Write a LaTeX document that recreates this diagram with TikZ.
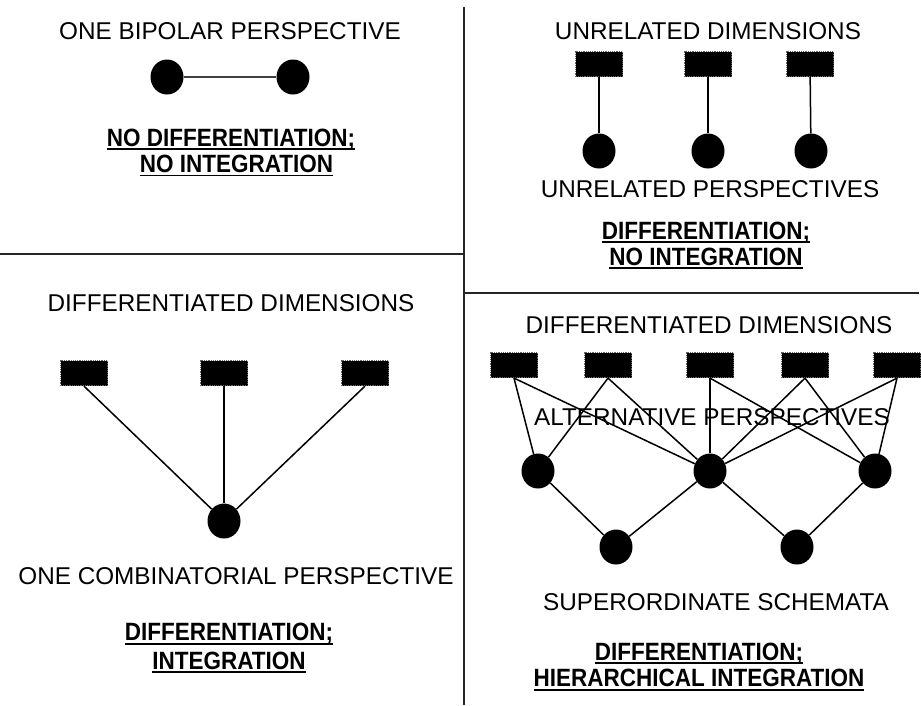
\documentclass[tikz,border=0pt]{standalone}
\usepackage{fontspec}
\setmainfont{Liberation Sans}
\usetikzlibrary{shapes.geometric}
\newcommand{\myul}[1]{\setbox0=\hbox{#1}\leavevmode\rlap{\copy0}\rule[-3.8pt]{\wd0}{1.8pt}}
\newcommand{\bl}[1]{\scalebox{0.9}[1]{\myul{#1}}}
\tikzset{
  lab/.style={anchor=base, inner sep=0pt, font=\fontsize{24.3}{29}\selectfont},
  blab/.style={anchor=base, inner sep=0pt, font=\fontsize{25}{30}\selectfont\bfseries},
  dot/.style={ellipse, fill=black, minimum width=33pt, minimum height=35pt, inner sep=0pt},
  dimbox/.style={rectangle, fill=black, draw=black!60, densely dotted, line width=1.2pt, minimum width=47pt, minimum height=25pt, inner sep=0pt},
  conn/.style={line width=1.5pt},
  divider/.style={line width=1.6pt, black!85}
}
\begin{document}
\begin{tikzpicture}[x=1pt,y=-1pt]
\useasboundingbox (0,0) rectangle (921,705);
% dividers
\coordinate (vt) at (464,7);
\coordinate (vb) at (464,705);
\coordinate (hl1) at (0,254);
\coordinate (hl2) at (464,254);
\coordinate (hr1) at (464,293);
\coordinate (hr2) at (919,293);
\draw[divider] (vt) -- (vb);
\draw[divider] (hl1) -- (hl2);
\draw[divider] (hr1) -- (hr2);

% ---- top left
\node[lab] (t1) at (230,39.3) {ONE BIPOLAR PERSPECTIVE};
\node[dot] (bp1) at (167,77) {};
\node[dot] (bp2) at (293,77) {};
\draw[conn, black!75] (bp1) -- (bp2);
\node[blab] (t1a) at (231,146) {\bl{NO DIFFERENTIATION;}};
\node[blab] (t1b) at (236.5,172.5) {\bl{NO INTEGRATION}};

% ---- top right
\node[lab] (t2) at (708,39.3) {UNRELATED DIMENSIONS};
\node[dimbox] (ur1) at (599,64) {};
\node[dimbox] (ur2) at (708,64) {};
\node[dimbox] (ur3) at (810,64) {};
\node[dot] (uc1) at (599,151) {};
\node[dot] (uc2) at (708,151) {};
\node[dot] (uc3) at (811,151) {};
\draw[conn] (ur1) -- (uc1);
\draw[conn] (ur2) -- (uc2);
\draw[conn] (ur3) -- (uc3);
\node[lab] (t2p) at (710,197) {UNRELATED PERSPECTIVES};
\node[blab] (t2a) at (706,239) {\bl{DIFFERENTIATION;}};
\node[blab] (t2b) at (706,265) {\bl{NO INTEGRATION}};

% ---- bottom left
\node[lab] (t3) at (231,311) {DIFFERENTIATED DIMENSIONS};
\node[dimbox] (dl1) at (84,373) {};
\node[dimbox] (dl2) at (224,373) {};
\node[dimbox] (dl3) at (365,373) {};
\node[dot] (cc) at (224,521) {};
\draw[conn] (dl1.south) -- (cc);
\draw[conn] (dl2.south) -- (cc);
\draw[conn] (dl3.south) -- (cc);
\node[lab] (t3p) at (236,584) {ONE COMBINATORIAL PERSPECTIVE};
\node[blab] (t3a) at (229,640.7) {\bl{DIFFERENTIATION;}};
\node[blab] (t3b) at (229,669) {\bl{INTEGRATION}};

% ---- bottom right
\node[lab] (t4) at (709,333) {DIFFERENTIATED DIMENSIONS};
\node[dimbox] (r1) at (514,365) {};
\node[dimbox] (r2) at (608,365) {};
\node[dimbox] (r3) at (710,365) {};
\node[dimbox] (r4) at (805,365) {};
\node[dimbox] (r5) at (897,365) {};
\node[dot] (m1) at (538,471) {};
\node[dot] (m2) at (710,471) {};
\node[dot] (m3) at (875,471) {};
\node[dot] (s1) at (616,547) {};
\node[dot] (s2) at (797,547) {};
\node[lab] (t4p) at (712,425) {ALTERNATIVE PERSPECTIVES};
\draw[conn] (r1.south) -- (m1);
\draw[conn] (r1.south) -- (m2);
\draw[conn] (r2.south) -- (m1);
\draw[conn] (r2.south) -- (m2);
\draw[conn] (r3.south) -- (m2);
\draw[conn] (r3.south) -- (m3);
\draw[conn] (r4.south) -- (m2);
\draw[conn] (r4.south) -- (m3);
\draw[conn] (r5.south) -- (m2);
\draw[conn] (r5.south) -- (m3);
\draw[conn] (m1) -- (s1);
\draw[conn] (m2) -- (s1);
\draw[conn] (m2) -- (s2);
\draw[conn] (m3) -- (s2);
\node[lab] (t4s) at (716,610) {SUPERORDINATE SCHEMATA};
\node[blab] (t4a) at (699,660) {\bl{DIFFERENTIATION;}};
\node[blab] (t4b) at (699,686.7) {\bl{HIERARCHICAL INTEGRATION}};
\end{tikzpicture}
\end{document}
